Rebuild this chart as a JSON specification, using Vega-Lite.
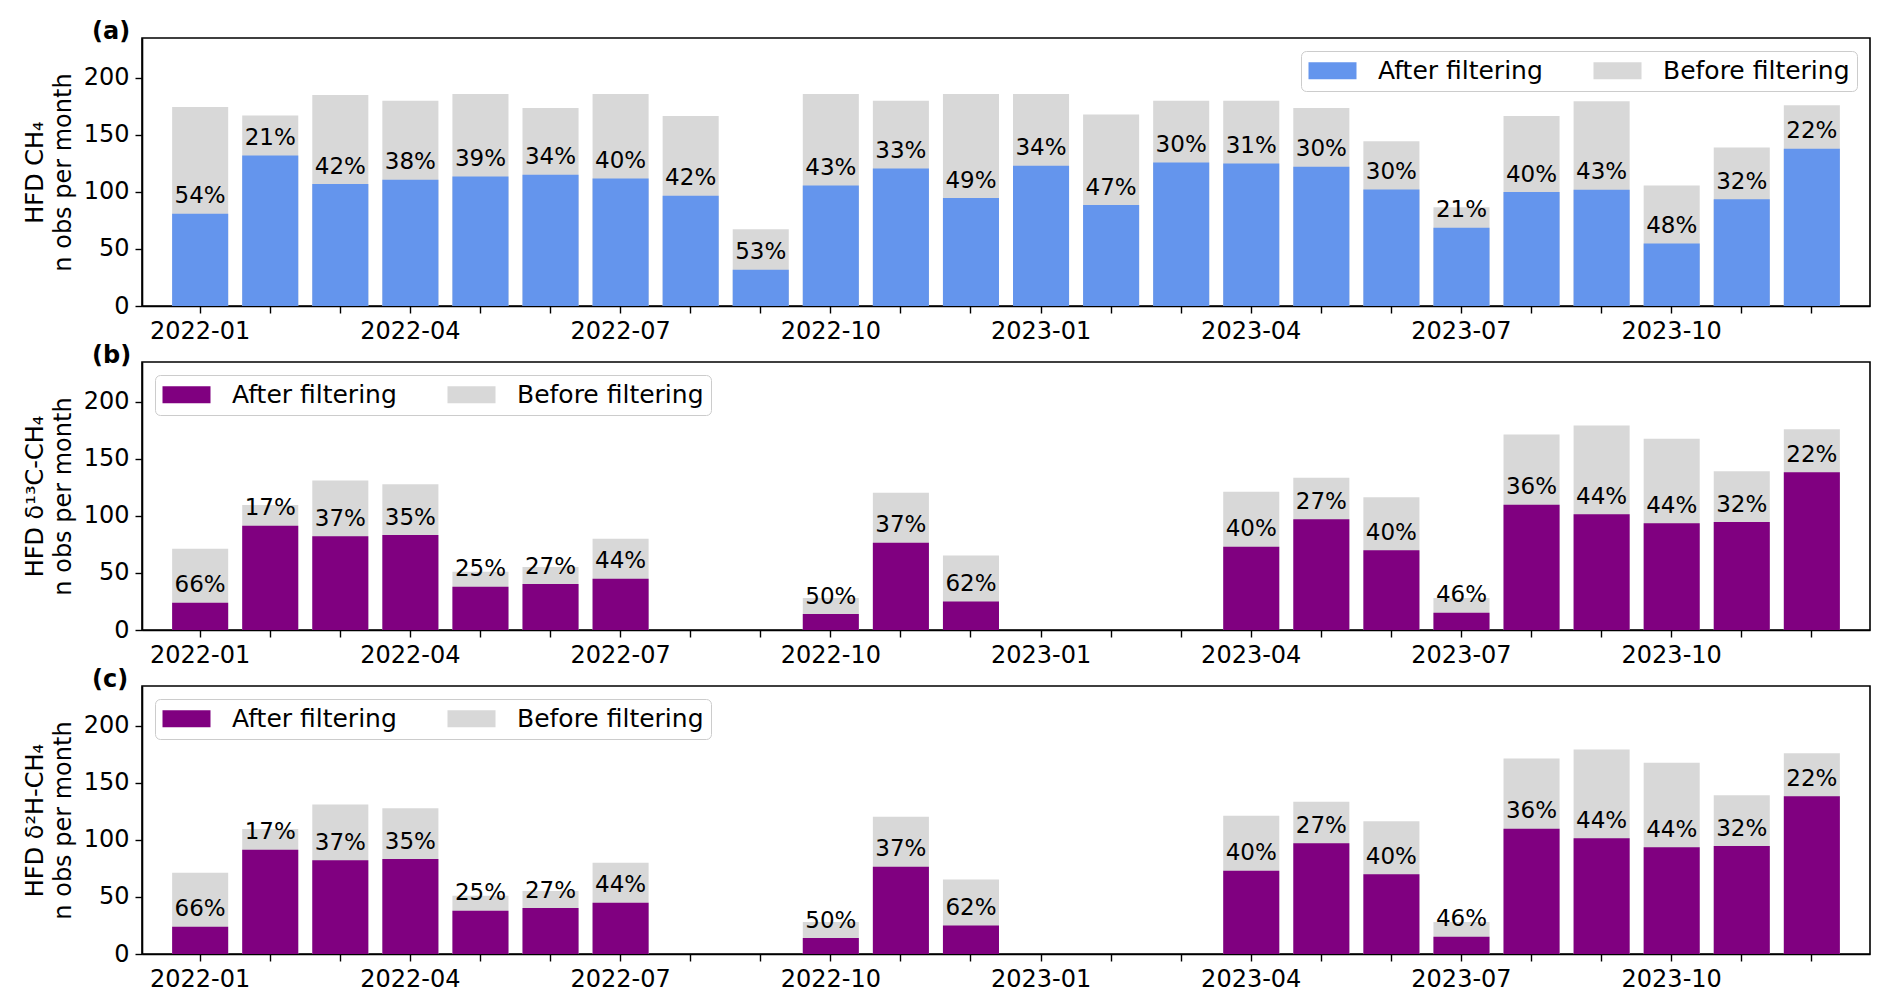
{
  "$schema": "https://vega.github.io/schema/vega-lite/v6.json",
  "background": "white",
  "padding": {"left": 22, "top": 19, "right": 5, "bottom": 5},
  "spacing": -1,
  "config": {
    "font": "DejaVu Sans",
    "view": {"stroke": "black", "strokeWidth": 1.6},
    "axis": {
      "domainColor": "black",
      "domainWidth": 1.6,
      "tickColor": "black",
      "tickWidth": 1.4,
      "tickSize": 7,
      "labelColor": "black",
      "labelFontSize": 24,
      "labelPadding": 6,
      "titleColor": "black",
      "titleFontSize": 24,
      "titleFontWeight": "normal",
      "grid": false
    },
    "legend": {
      "direction": "horizontal",
      "offset": 13,
      "padding": 7,
      "strokeColor": "#cccccc",
      "fillColor": "white",
      "cornerRadius": 5,
      "symbolType": "M-2,-0.7L2,-0.7L2,0.7L-2,0.7Z",
      "symbolSize": 576,
      "symbolOffset": 12,
      "symbolStrokeWidth": 0,
      "symbolOpacity": 1,
      "labelFontSize": 25,
      "labelColor": "black",
      "labelLimit": 0,
      "labelOffset": 33,
      "columnPadding": 50
    },
    "title": {"anchor": "start", "frame": "group", "fontSize": 24, "fontWeight": "bold", "color": "black", "dx": -50, "dy": 10, "offset": 0, "baseline": "alphabetic"}
  },
  "datasets": {
    "counts": [
      {"panel": "a", "month": "2022-01", "before": 174.6, "after": 80.9, "pct": 0.54},
      {"panel": "a", "month": "2022-02", "before": 167.0, "after": 132.0, "pct": 0.21},
      {"panel": "a", "month": "2022-03", "before": 185.0, "after": 106.9, "pct": 0.42},
      {"panel": "a", "month": "2022-04", "before": 180.0, "after": 110.7, "pct": 0.38},
      {"panel": "a", "month": "2022-05", "before": 186.0, "after": 113.6, "pct": 0.39},
      {"panel": "a", "month": "2022-06", "before": 173.7, "after": 115.0, "pct": 0.34},
      {"panel": "a", "month": "2022-07", "before": 186.0, "after": 111.8, "pct": 0.40},
      {"panel": "a", "month": "2022-08", "before": 166.7, "after": 96.6, "pct": 0.42},
      {"panel": "a", "month": "2022-09", "before": 67.4, "after": 31.8, "pct": 0.53},
      {"panel": "a", "month": "2022-10", "before": 186.0, "after": 105.7, "pct": 0.43},
      {"panel": "a", "month": "2022-11", "before": 180.0, "after": 120.6, "pct": 0.33},
      {"panel": "a", "month": "2022-12", "before": 186.0, "after": 94.6, "pct": 0.49},
      {"panel": "a", "month": "2023-01", "before": 186.0, "after": 122.9, "pct": 0.34},
      {"panel": "a", "month": "2023-02", "before": 167.9, "after": 88.5, "pct": 0.47},
      {"panel": "a", "month": "2023-03", "before": 180.0, "after": 125.8, "pct": 0.30},
      {"panel": "a", "month": "2023-04", "before": 180.0, "after": 125.0, "pct": 0.31},
      {"panel": "a", "month": "2023-05", "before": 173.7, "after": 122.0, "pct": 0.30},
      {"panel": "a", "month": "2023-06", "before": 144.5, "after": 102.2, "pct": 0.30},
      {"panel": "a", "month": "2023-07", "before": 86.7, "after": 68.6, "pct": 0.21},
      {"panel": "a", "month": "2023-08", "before": 166.7, "after": 99.9, "pct": 0.40},
      {"panel": "a", "month": "2023-09", "before": 179.6, "after": 101.9, "pct": 0.43},
      {"panel": "a", "month": "2023-10", "before": 105.7, "after": 54.9, "pct": 0.48},
      {"panel": "a", "month": "2023-11", "before": 139.0, "after": 93.7, "pct": 0.32},
      {"panel": "a", "month": "2023-12", "before": 176.0, "after": 137.8, "pct": 0.22},
      {"panel": "b", "month": "2022-01", "before": 71.2, "after": 23.9, "pct": 0.66},
      {"panel": "b", "month": "2022-02", "before": 109.5, "after": 91.4, "pct": 0.17},
      {"panel": "b", "month": "2022-03", "before": 131.0, "after": 82.3, "pct": 0.37},
      {"panel": "b", "month": "2022-04", "before": 127.9, "after": 83.2, "pct": 0.35},
      {"panel": "b", "month": "2022-05", "before": 51.1, "after": 38.0, "pct": 0.25},
      {"panel": "b", "month": "2022-06", "before": 55.2, "after": 40.3, "pct": 0.27},
      {"panel": "b", "month": "2022-07", "before": 80.0, "after": 45.0, "pct": 0.44},
      {"panel": "b", "month": "2022-10", "before": 28.0, "after": 14.0, "pct": 0.50},
      {"panel": "b", "month": "2022-11", "before": 120.3, "after": 76.5, "pct": 0.37},
      {"panel": "b", "month": "2022-12", "before": 65.4, "after": 25.1, "pct": 0.62},
      {"panel": "b", "month": "2023-04", "before": 121.2, "after": 73.0, "pct": 0.40},
      {"panel": "b", "month": "2023-05", "before": 133.4, "after": 97.2, "pct": 0.27},
      {"panel": "b", "month": "2023-06", "before": 116.5, "after": 70.0, "pct": 0.40},
      {"panel": "b", "month": "2023-07", "before": 28.0, "after": 15.2, "pct": 0.46},
      {"panel": "b", "month": "2023-08", "before": 171.4, "after": 109.8, "pct": 0.36},
      {"panel": "b", "month": "2023-09", "before": 179.3, "after": 101.6, "pct": 0.44},
      {"panel": "b", "month": "2023-10", "before": 167.6, "after": 93.7, "pct": 0.44},
      {"panel": "b", "month": "2023-11", "before": 139.3, "after": 94.6, "pct": 0.32},
      {"panel": "b", "month": "2023-12", "before": 176.0, "after": 138.4, "pct": 0.22},
      {"panel": "c", "month": "2022-01", "before": 71.2, "after": 23.9, "pct": 0.66},
      {"panel": "c", "month": "2022-02", "before": 109.5, "after": 91.4, "pct": 0.17},
      {"panel": "c", "month": "2022-03", "before": 131.0, "after": 82.3, "pct": 0.37},
      {"panel": "c", "month": "2022-04", "before": 127.9, "after": 83.2, "pct": 0.35},
      {"panel": "c", "month": "2022-05", "before": 51.1, "after": 38.0, "pct": 0.25},
      {"panel": "c", "month": "2022-06", "before": 55.2, "after": 40.3, "pct": 0.27},
      {"panel": "c", "month": "2022-07", "before": 80.0, "after": 45.0, "pct": 0.44},
      {"panel": "c", "month": "2022-10", "before": 28.0, "after": 14.0, "pct": 0.50},
      {"panel": "c", "month": "2022-11", "before": 120.3, "after": 76.5, "pct": 0.37},
      {"panel": "c", "month": "2022-12", "before": 65.4, "after": 25.1, "pct": 0.62},
      {"panel": "c", "month": "2023-04", "before": 121.2, "after": 73.0, "pct": 0.40},
      {"panel": "c", "month": "2023-05", "before": 133.4, "after": 97.2, "pct": 0.27},
      {"panel": "c", "month": "2023-06", "before": 116.5, "after": 70.0, "pct": 0.40},
      {"panel": "c", "month": "2023-07", "before": 28.0, "after": 15.2, "pct": 0.46},
      {"panel": "c", "month": "2023-08", "before": 171.4, "after": 109.8, "pct": 0.36},
      {"panel": "c", "month": "2023-09", "before": 179.3, "after": 101.6, "pct": 0.44},
      {"panel": "c", "month": "2023-10", "before": 167.6, "after": 93.7, "pct": 0.44},
      {"panel": "c", "month": "2023-11", "before": 139.3, "after": 94.6, "pct": 0.32},
      {"panel": "c", "month": "2023-12", "before": 176.0, "after": 138.4, "pct": 0.22}
    ]
  },
  "data": {"name": "counts"},
  "resolve": {
    "scale": {"x": "independent", "y": "independent", "color": "independent"},
    "legend": {"color": "independent"}
  },
  "vconcat": [
    {
      "title": "(a)",
      "width": 1728,
      "height": 268,
      "transform": [{"filter": "datum.panel == 'a'"}],
      "encoding": {
        "x": {
          "field": "month",
          "type": "ordinal",
          "sort": null,
          "scale": {
            "domain": ["2022-01", "2022-02", "2022-03", "2022-04", "2022-05", "2022-06", "2022-07", "2022-08", "2022-09", "2022-10", "2022-11", "2022-12", "2023-01", "2023-02", "2023-03", "2023-04", "2023-05", "2023-06", "2023-07", "2023-08", "2023-09", "2023-10", "2023-11", "2023-12"],
            "paddingInner": 0.2,
            "paddingOuter": 0.43
          },
          "axis": {
            "title": null,
            "labelAngle": 0,
            "labelOverlap": false,
            "labelExpr": "indexof(['01', '04', '07', '10'], slice(datum.label, 5)) >= 0 ? datum.label : ''"
          }
        }
      },
      "layer": [
        {
          "mark": {"type": "bar"},
          "encoding": {
            "y": {
              "field": "before",
              "type": "quantitative",
              "scale": {"domain": [0, 235], "nice": false},
              "axis": {"values": [0, 50, 100, 150, 200], "title": ["HFD CH₄", "n obs per month"], "titleLineHeight": 28, "titlePadding": 8}
            },
            "color": {
              "datum": "Before filtering",
              "scale": {"domain": ["After filtering", "Before filtering"], "range": ["#6495ed", "#d8d8d8"]},
              "legend": {"orient": "top-right", "title": null}
            }
          }
        },
        {
          "mark": {"type": "bar"},
          "encoding": {
            "y": {"field": "after", "type": "quantitative"},
            "color": {"datum": "After filtering"}
          }
        },
        {
          "mark": {"type": "text", "baseline": "alphabetic", "dy": -10.5, "fontSize": 23, "color": "black"},
          "encoding": {
            "y": {"field": "after", "type": "quantitative"},
            "text": {"field": "pct", "type": "quantitative", "format": ".0%"}
          }
        }
      ]
    },
    {
      "title": "(b)",
      "width": 1728,
      "height": 268,
      "transform": [{"filter": "datum.panel == 'b'"}],
      "encoding": {
        "x": {
          "field": "month",
          "type": "ordinal",
          "sort": null,
          "scale": {
            "domain": ["2022-01", "2022-02", "2022-03", "2022-04", "2022-05", "2022-06", "2022-07", "2022-08", "2022-09", "2022-10", "2022-11", "2022-12", "2023-01", "2023-02", "2023-03", "2023-04", "2023-05", "2023-06", "2023-07", "2023-08", "2023-09", "2023-10", "2023-11", "2023-12"],
            "paddingInner": 0.2,
            "paddingOuter": 0.43
          },
          "axis": {
            "title": null,
            "labelAngle": 0,
            "labelOverlap": false,
            "labelExpr": "indexof(['01', '04', '07', '10'], slice(datum.label, 5)) >= 0 ? datum.label : ''"
          }
        }
      },
      "layer": [
        {
          "mark": {"type": "bar"},
          "encoding": {
            "y": {
              "field": "before",
              "type": "quantitative",
              "scale": {"domain": [0, 235], "nice": false},
              "axis": {"values": [0, 50, 100, 150, 200], "title": ["HFD δ¹³C-CH₄", "n obs per month"], "titleLineHeight": 28, "titlePadding": 8}
            },
            "color": {
              "datum": "Before filtering",
              "scale": {"domain": ["After filtering", "Before filtering"], "range": ["#800080", "#d8d8d8"]},
              "legend": {"orient": "top-left", "title": null}
            }
          }
        },
        {
          "mark": {"type": "bar"},
          "encoding": {
            "y": {"field": "after", "type": "quantitative"},
            "color": {"datum": "After filtering"}
          }
        },
        {
          "mark": {"type": "text", "baseline": "alphabetic", "dy": -10.5, "fontSize": 23, "color": "black"},
          "encoding": {
            "y": {"field": "after", "type": "quantitative"},
            "text": {"field": "pct", "type": "quantitative", "format": ".0%"}
          }
        }
      ]
    },
    {
      "title": "(c)",
      "width": 1728,
      "height": 268,
      "transform": [{"filter": "datum.panel == 'c'"}],
      "encoding": {
        "x": {
          "field": "month",
          "type": "ordinal",
          "sort": null,
          "scale": {
            "domain": ["2022-01", "2022-02", "2022-03", "2022-04", "2022-05", "2022-06", "2022-07", "2022-08", "2022-09", "2022-10", "2022-11", "2022-12", "2023-01", "2023-02", "2023-03", "2023-04", "2023-05", "2023-06", "2023-07", "2023-08", "2023-09", "2023-10", "2023-11", "2023-12"],
            "paddingInner": 0.2,
            "paddingOuter": 0.43
          },
          "axis": {
            "title": null,
            "labelAngle": 0,
            "labelOverlap": false,
            "labelExpr": "indexof(['01', '04', '07', '10'], slice(datum.label, 5)) >= 0 ? datum.label : ''"
          }
        }
      },
      "layer": [
        {
          "mark": {"type": "bar"},
          "encoding": {
            "y": {
              "field": "before",
              "type": "quantitative",
              "scale": {"domain": [0, 235], "nice": false},
              "axis": {"values": [0, 50, 100, 150, 200], "title": ["HFD δ²H-CH₄", "n obs per month"], "titleLineHeight": 28, "titlePadding": 8}
            },
            "color": {
              "datum": "Before filtering",
              "scale": {"domain": ["After filtering", "Before filtering"], "range": ["#800080", "#d8d8d8"]},
              "legend": {"orient": "top-left", "title": null}
            }
          }
        },
        {
          "mark": {"type": "bar"},
          "encoding": {
            "y": {"field": "after", "type": "quantitative"},
            "color": {"datum": "After filtering"}
          }
        },
        {
          "mark": {"type": "text", "baseline": "alphabetic", "dy": -10.5, "fontSize": 23, "color": "black"},
          "encoding": {
            "y": {"field": "after", "type": "quantitative"},
            "text": {"field": "pct", "type": "quantitative", "format": ".0%"}
          }
        }
      ]
    }
  ]
}
